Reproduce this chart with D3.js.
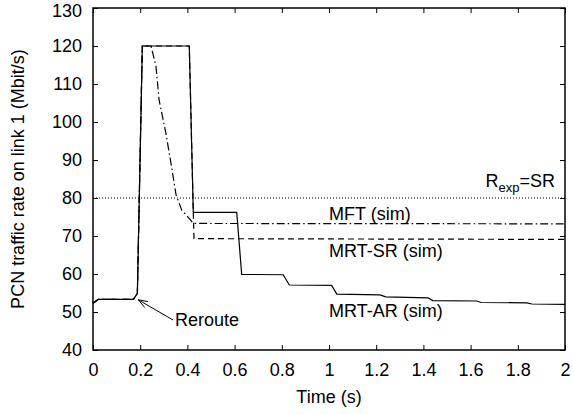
<!DOCTYPE html>
<html>
<head>
<meta charset="utf-8">
<script src="https://cdn.jsdelivr.net/npm/d3@7"></script>
<style>
  body { margin: 0; background: #fff; }
  svg text { font-family: "Liberation Sans", Arial, sans-serif; fill: #000; }
</style>
</head>
<body>
<div id="chart"></div>
<script>
// MRT-AR (sim), solid
const timeAR = [0, 0.022, 0.171, 0.188, 0.209, 0.408, 0.425, 0.609, 0.63, 0.806, 0.832, 1.011, 1.033, 1.216, 1.24, 1.42, 1.44, 1.626, 1.645, 1.838, 1.86, 2.0];
const rateAR = [52.3, 53.3, 53.3, 54.9, 120, 120, 76.2, 76.2, 59.9, 59.8, 57.1, 57.0, 54.7, 54.5, 54.0, 53.7, 53.0, 52.9, 52.5, 52.4, 52.1, 52.0];

// MRT-SR (sim), dashed
const timeSR = [0, 0.022, 0.171, 0.188, 0.209, 0.408, 0.425, 0.428, 2.0];
const rateSR = [52.3, 53.3, 53.3, 54.9, 120, 120, 76.2, 69.3, 69.1];

// MFT (sim), dash-dot
const timeMFT = [0, 0.022, 0.171, 0.188, 0.209, 0.246, 0.267, 0.28, 0.309, 0.333, 0.352, 0.376, 0.411, 0.425, 2.0];
const rateMFT = [52.3, 53.3, 53.3, 54.9, 120, 120, 114.6, 105.8, 97, 88.2, 80.8, 76.8, 74.4, 73.3, 73.2];

const rExp = 80;
const xTicks = [0, 0.2, 0.4, 0.6, 0.8, 1, 1.2, 1.4, 1.6, 1.8, 2];
const yTicks = [40, 50, 60, 70, 80, 90, 100, 110, 120, 130];

const W = 574, H = 414;
const margin = { top: 8, right: 9, bottom: 64, left: 93 };
const width = W - margin.left - margin.right;
const height = H - margin.top - margin.bottom;
const fs = 18;

const svg = d3.select("#chart").append("svg")
    .attr("width", W).attr("height", H);
const g = svg.append("g")
    .attr("transform", `translate(${margin.left},${margin.top})`);

const x = d3.scaleLinear().domain([0, 2]).range([0, width]);
const y = d3.scaleLinear().domain([40, 130]).range([height, 0]);

// axes, ticks pointing inward on all four sides
const fmt = d => String(+d.toFixed(1));
g.append("g").attr("transform", `translate(0,${height})`)
    .call(d3.axisBottom(x).tickValues(xTicks).tickFormat(fmt).tickSizeInner(-5).tickSizeOuter(0).tickPadding(13));
g.append("g").call(d3.axisTop(x).tickValues(xTicks).tickFormat("").tickSizeInner(-5).tickSizeOuter(0));
const yAxis = g.append("g")
    .call(d3.axisLeft(y).tickValues(yTicks).tickSizeInner(-5).tickSizeOuter(0).tickPadding(11));
g.append("g").attr("transform", `translate(${width},0)`)
    .call(d3.axisRight(y).tickValues(yTicks).tickFormat("").tickSizeInner(-5).tickSizeOuter(0));
g.selectAll(".domain").remove();
g.selectAll(".tick line").attr("stroke", "#000").attr("stroke-width", 1);
g.selectAll(".tick text").style("font-size", fs + "px");
// keep the top label inside the page
yAxis.selectAll(".tick text").filter(d => d === 130).attr("y", 3);

g.append("rect").attr("width", width).attr("height", height)
    .attr("fill", "none").attr("stroke", "#000").attr("stroke-width", 1.5);

// reference line R_exp = SR
g.append("line")
    .attr("x1", x(0)).attr("x2", x(2))
    .attr("y1", y(rExp)).attr("y2", y(rExp))
    .attr("stroke", "#000").attr("stroke-width", 1)
    .attr("stroke-dasharray", "1,2");

const line = d3.line().x(d => x(d[0])).y(d => y(d[1]));
const series = [
    { t: timeMFT, v: rateMFT, dash: "8,3,1.5,3" },
    { t: timeSR, v: rateSR, dash: "6,4" },
    { t: timeAR, v: rateAR, dash: null }
];
series.forEach(s => {
    g.append("path")
        .datum(d3.zip(s.t, s.v))
        .attr("d", line)
        .attr("fill", "none")
        .attr("stroke", "#000")
        .attr("stroke-width", 1.2)
        .attr("stroke-dasharray", s.dash);
});

// labels
const lab = (tx, ty, text, anchor) => g.append("text")
    .attr("x", x(tx)).attr("y", y(ty))
    .attr("text-anchor", anchor || "start")
    .style("font-size", fs + "px")
    .text(text);
lab(1.0, 74.2, "MFT (sim)");
lab(1.0, 64.5, "MRT-SR (sim)");
lab(1.0, 48.7, "MRT-AR (sim)");
lab(0.347, 46.3, "Reroute");

const rt = g.append("text")
    .attr("x", x(1.958)).attr("y", y(82.9))
    .attr("text-anchor", "end")
    .style("font-size", fs + "px");
rt.append("tspan").text("R");
rt.append("tspan").attr("dy", 5).style("font-size", "13px").text("exp");
rt.append("tspan").attr("dy", -5).text("=SR");

// arrow to the reroute point
const tail = [0.339, 47.9], tip = [0.192, 53.2];
const x0 = x(tail[0]), y0 = y(tail[1]), x1 = x(tip[0]), y1 = y(tip[1]);
const ang = Math.atan2(y1 - y0, x1 - x0);
const hl = 10, ha = 0.35;
g.append("line").attr("x1", x0).attr("y1", y0).attr("x2", x1).attr("y2", y1)
    .attr("stroke", "#000").attr("stroke-width", 1);
g.append("path")
    .attr("d", `M${x1 - hl * Math.cos(ang - ha)},${y1 - hl * Math.sin(ang - ha)}L${x1},${y1}L${x1 - hl * Math.cos(ang + ha)},${y1 - hl * Math.sin(ang + ha)}`)
    .attr("fill", "none").attr("stroke", "#000").attr("stroke-width", 1);

// axis titles
svg.append("text")
    .attr("x", margin.left + width / 2).attr("y", 403)
    .attr("text-anchor", "middle").style("font-size", fs + "px")
    .text("Time (s)");
svg.append("text")
    .attr("transform", `translate(24,${margin.top + height / 2}) rotate(-90)`)
    .attr("text-anchor", "middle").style("font-size", fs + "px")
    .text("PCN traffic rate on link 1 (Mbit/s)");
</script>
</body>
</html>
